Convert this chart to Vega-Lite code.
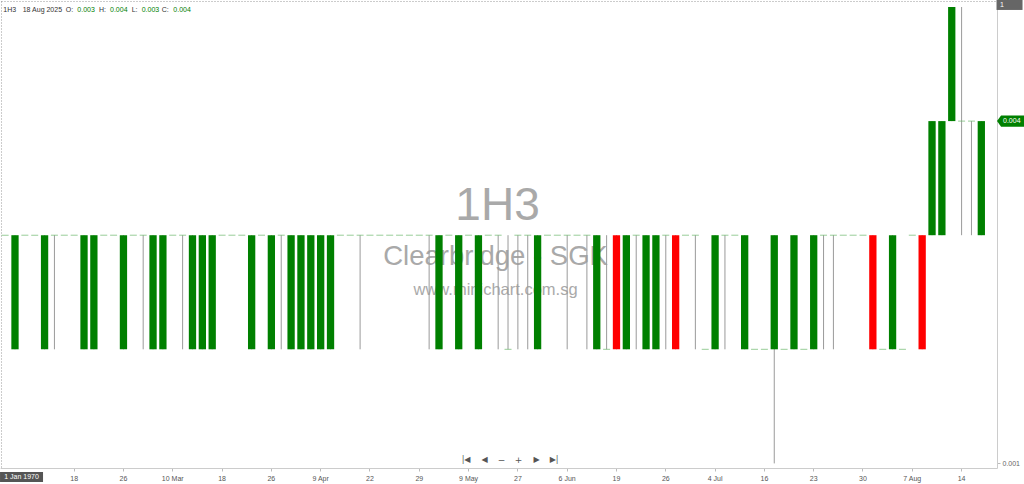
{
  "$schema": "https://vega.github.io/schema/vega-lite/v6.json",
  "autosize": {"type": "none"},
  "padding": {"top": 1, "left": 1, "right": 27, "bottom": 16},
  "width": 996,
  "height": 467,
  "background": "white",
  "config": {"view": {"stroke": "#999", "strokeDash": [1, 2]}, "font": "Liberation Sans"},
  "data": {"values": [
    {"date":"2025-02-07","open":0.003,"high":0.003,"low":0.003,"close":0.003},
    {"date":"2025-02-10","open":0.002,"high":0.003,"low":0.002,"close":0.003},
    {"date":"2025-02-11","open":0.003,"high":0.003,"low":0.003,"close":0.003},
    {"date":"2025-02-12","open":0.003,"high":0.003,"low":0.003,"close":0.003},
    {"date":"2025-02-13","open":0.002,"high":0.003,"low":0.002,"close":0.003},
    {"date":"2025-02-14","open":0.003,"high":0.003,"low":0.002,"close":0.003},
    {"date":"2025-02-17","open":0.003,"high":0.003,"low":0.003,"close":0.003},
    {"date":"2025-02-18","open":0.003,"high":0.003,"low":0.003,"close":0.003},
    {"date":"2025-02-19","open":0.002,"high":0.003,"low":0.002,"close":0.003},
    {"date":"2025-02-20","open":0.002,"high":0.003,"low":0.002,"close":0.003},
    {"date":"2025-02-21","open":0.003,"high":0.003,"low":0.003,"close":0.003},
    {"date":"2025-02-24","open":0.003,"high":0.003,"low":0.003,"close":0.003},
    {"date":"2025-02-26","open":0.002,"high":0.003,"low":0.002,"close":0.003},
    {"date":"2025-02-27","open":0.003,"high":0.003,"low":0.003,"close":0.003},
    {"date":"2025-02-28","open":0.003,"high":0.003,"low":0.002,"close":0.003},
    {"date":"2025-03-04","open":0.002,"high":0.003,"low":0.002,"close":0.003},
    {"date":"2025-03-06","open":0.002,"high":0.003,"low":0.002,"close":0.003},
    {"date":"2025-03-10","open":0.003,"high":0.003,"low":0.003,"close":0.003},
    {"date":"2025-03-11","open":0.003,"high":0.003,"low":0.002,"close":0.003},
    {"date":"2025-03-12","open":0.002,"high":0.003,"low":0.002,"close":0.003},
    {"date":"2025-03-13","open":0.002,"high":0.003,"low":0.002,"close":0.003},
    {"date":"2025-03-14","open":0.002,"high":0.003,"low":0.002,"close":0.003},
    {"date":"2025-03-18","open":0.003,"high":0.003,"low":0.003,"close":0.003},
    {"date":"2025-03-19","open":0.003,"high":0.003,"low":0.003,"close":0.003},
    {"date":"2025-03-20","open":0.003,"high":0.003,"low":0.003,"close":0.003},
    {"date":"2025-03-21","open":0.002,"high":0.003,"low":0.002,"close":0.003},
    {"date":"2025-03-24","open":0.003,"high":0.003,"low":0.003,"close":0.003},
    {"date":"2025-03-26","open":0.002,"high":0.003,"low":0.002,"close":0.003},
    {"date":"2025-03-28","open":0.003,"high":0.003,"low":0.002,"close":0.003},
    {"date":"2025-04-02","open":0.002,"high":0.003,"low":0.002,"close":0.003},
    {"date":"2025-04-04","open":0.002,"high":0.003,"low":0.002,"close":0.003},
    {"date":"2025-04-08","open":0.002,"high":0.003,"low":0.002,"close":0.003},
    {"date":"2025-04-09","open":0.002,"high":0.003,"low":0.002,"close":0.003},
    {"date":"2025-04-11","open":0.002,"high":0.003,"low":0.002,"close":0.003},
    {"date":"2025-04-14","open":0.003,"high":0.003,"low":0.003,"close":0.003},
    {"date":"2025-04-16","open":0.003,"high":0.003,"low":0.003,"close":0.003},
    {"date":"2025-04-21","open":0.003,"high":0.003,"low":0.002,"close":0.003},
    {"date":"2025-04-22","open":0.003,"high":0.003,"low":0.003,"close":0.003},
    {"date":"2025-04-23","open":0.003,"high":0.003,"low":0.003,"close":0.003},
    {"date":"2025-04-24","open":0.003,"high":0.003,"low":0.003,"close":0.003},
    {"date":"2025-04-25","open":0.003,"high":0.003,"low":0.003,"close":0.003},
    {"date":"2025-04-28","open":0.003,"high":0.003,"low":0.003,"close":0.003},
    {"date":"2025-04-29","open":0.003,"high":0.003,"low":0.003,"close":0.003},
    {"date":"2025-04-30","open":0.003,"high":0.003,"low":0.002,"close":0.003},
    {"date":"2025-05-02","open":0.002,"high":0.003,"low":0.002,"close":0.003},
    {"date":"2025-05-06","open":0.003,"high":0.003,"low":0.003,"close":0.003},
    {"date":"2025-05-08","open":0.002,"high":0.003,"low":0.002,"close":0.003},
    {"date":"2025-05-09","open":0.003,"high":0.003,"low":0.003,"close":0.003},
    {"date":"2025-05-14","open":0.002,"high":0.003,"low":0.002,"close":0.003},
    {"date":"2025-05-16","open":0.003,"high":0.003,"low":0.003,"close":0.003},
    {"date":"2025-05-21","open":0.003,"high":0.003,"low":0.002,"close":0.003},
    {"date":"2025-05-23","open":0.002,"high":0.003,"low":0.002,"close":0.002},
    {"date":"2025-05-27","open":0.003,"high":0.003,"low":0.002,"close":0.003},
    {"date":"2025-05-28","open":0.003,"high":0.003,"low":0.002,"close":0.003},
    {"date":"2025-05-29","open":0.002,"high":0.003,"low":0.002,"close":0.003},
    {"date":"2025-05-30","open":0.003,"high":0.003,"low":0.003,"close":0.003},
    {"date":"2025-06-03","open":0.003,"high":0.003,"low":0.003,"close":0.003},
    {"date":"2025-06-06","open":0.003,"high":0.003,"low":0.002,"close":0.003},
    {"date":"2025-06-10","open":0.003,"high":0.003,"low":0.003,"close":0.003},
    {"date":"2025-06-12","open":0.003,"high":0.003,"low":0.002,"close":0.003},
    {"date":"2025-06-16","open":0.002,"high":0.003,"low":0.002,"close":0.003},
    {"date":"2025-06-18","open":0.002,"high":0.003,"low":0.002,"close":0.002},
    {"date":"2025-06-19","open":0.003,"high":0.003,"low":0.002,"close":0.002},
    {"date":"2025-06-20","open":0.002,"high":0.003,"low":0.002,"close":0.003},
    {"date":"2025-06-23","open":0.003,"high":0.003,"low":0.002,"close":0.003},
    {"date":"2025-06-24","open":0.002,"high":0.003,"low":0.002,"close":0.003},
    {"date":"2025-06-25","open":0.002,"high":0.003,"low":0.002,"close":0.003},
    {"date":"2025-06-26","open":0.003,"high":0.003,"low":0.002,"close":0.003},
    {"date":"2025-06-27","open":0.003,"high":0.003,"low":0.002,"close":0.002},
    {"date":"2025-06-30","open":0.003,"high":0.003,"low":0.003,"close":0.003},
    {"date":"2025-07-01","open":0.003,"high":0.003,"low":0.002,"close":0.003},
    {"date":"2025-07-03","open":0.002,"high":0.002,"low":0.002,"close":0.002},
    {"date":"2025-07-04","open":0.002,"high":0.003,"low":0.002,"close":0.003},
    {"date":"2025-07-08","open":0.003,"high":0.003,"low":0.002,"close":0.003},
    {"date":"2025-07-10","open":0.003,"high":0.003,"low":0.003,"close":0.003},
    {"date":"2025-07-11","open":0.002,"high":0.003,"low":0.002,"close":0.003},
    {"date":"2025-07-15","open":0.002,"high":0.002,"low":0.002,"close":0.002},
    {"date":"2025-07-16","open":0.002,"high":0.002,"low":0.002,"close":0.002},
    {"date":"2025-07-17","open":0.002,"high":0.003,"low":0.001,"close":0.003},
    {"date":"2025-07-18","open":0.002,"high":0.002,"low":0.002,"close":0.002},
    {"date":"2025-07-21","open":0.002,"high":0.003,"low":0.002,"close":0.003},
    {"date":"2025-07-22","open":0.002,"high":0.002,"low":0.002,"close":0.002},
    {"date":"2025-07-23","open":0.002,"high":0.003,"low":0.002,"close":0.003},
    {"date":"2025-07-24","open":0.003,"high":0.003,"low":0.002,"close":0.003},
    {"date":"2025-07-25","open":0.003,"high":0.003,"low":0.002,"close":0.003},
    {"date":"2025-07-28","open":0.003,"high":0.003,"low":0.003,"close":0.003},
    {"date":"2025-07-29","open":0.003,"high":0.003,"low":0.003,"close":0.003},
    {"date":"2025-07-30","open":0.003,"high":0.003,"low":0.003,"close":0.003},
    {"date":"2025-07-31","open":0.003,"high":0.003,"low":0.002,"close":0.002},
    {"date":"2025-08-01","open":0.002,"high":0.002,"low":0.002,"close":0.002},
    {"date":"2025-08-04","open":0.002,"high":0.003,"low":0.002,"close":0.003},
    {"date":"2025-08-05","open":0.002,"high":0.002,"low":0.002,"close":0.002},
    {"date":"2025-08-07","open":0.003,"high":0.003,"low":0.003,"close":0.003},
    {"date":"2025-08-08","open":0.003,"high":0.003,"low":0.002,"close":0.002},
    {"date":"2025-08-11","open":0.003,"high":0.004,"low":0.003,"close":0.004},
    {"date":"2025-08-12","open":0.003,"high":0.004,"low":0.003,"close":0.004},
    {"date":"2025-08-13","open":0.004,"high":0.005,"low":0.004,"close":0.005},
    {"date":"2025-08-14","open":0.004,"high":0.005,"low":0.003,"close":0.004},
    {"date":"2025-08-15","open":0.004,"high":0.004,"low":0.003,"close":0.004},
    {"date":"2025-08-18","open":0.003,"high":0.004,"low":0.003,"close":0.004}
  ]},
  "encoding": {
    "x": {
      "field": "date", "type": "ordinal",
      "scale": {"range": [-0.8, 996], "paddingInner": 0, "paddingOuter": 0.545, "align": 0},
      "axis": {
        "title": null, "grid": false, "labelAngle": 0,
        "values": ["2025-02-18","2025-02-26","2025-03-10","2025-03-18","2025-03-26","2025-04-09","2025-04-22","2025-04-29","2025-05-09","2025-05-27","2025-06-06","2025-06-19","2025-06-26","2025-07-04","2025-07-16","2025-07-23","2025-07-30","2025-08-07","2025-08-14"],
        "labelExpr": "indexof(['2025-03-10','2025-04-09','2025-05-09','2025-06-06','2025-07-04','2025-08-07'], datum.value) >= 0 ? utcFormat(toDate(datum.value), '%-d %b') : utcFormat(toDate(datum.value), '%-d')",
        "labelFontSize": 7, "labelColor": "#555", "labelPadding": 3,
        "tickSize": 3, "tickColor": "#bbb", "domainColor": "#ccc"
      }
    }
  },
  "layer": [
    {"data": {"values": [{}]}, "mark": {"type": "text", "text": "1H3", "align": "center", "baseline": "alphabetic", "fontSize": 46, "color": "#a9a9a9", "xOffset": -0.6},
     "encoding": {"x": {"datum": "2025-05-21", "type": "ordinal"}, "y": {"datum": 0.003133, "type": "quantitative"}}},
    {"data": {"values": [{}]}, "mark": {"type": "text", "text": "Clearbridge - SGK", "align": "center", "baseline": "alphabetic", "fontSize": 27.5, "color": "#a9a9a9", "xOffset": -2.6},
     "encoding": {"x": {"datum": "2025-05-21", "type": "ordinal"}, "y": {"datum": 0.002739, "type": "quantitative"}}},
    {"data": {"values": [{}]}, "mark": {"type": "text", "text": "www.minichart.com.sg", "align": "center", "baseline": "alphabetic", "fontSize": 16.5, "color": "#a9a9a9", "xOffset": -2.6},
     "encoding": {"x": {"datum": "2025-05-21", "type": "ordinal"}, "y": {"datum": 0.002476, "type": "quantitative"}}},
    {
      "transform": [{"filter": "datum.high > datum.low"}],
      "mark": {"type": "rule", "color": "#9a9a9a", "strokeWidth": 1},
      "encoding": {
        "y": {"field": "low", "type": "quantitative",
              "scale": {"domain": [0.0009597, 0.0050526], "nice": false, "zero": false},
              "axis": {"orient": "right", "values": [0.001], "format": ".3f", "title": null, "grid": false, "labelFontSize": 7, "labelColor": "#666", "tickSize": 3, "tickColor": "#bbb", "domainColor": "#ccc", "labelPadding": 2}},
        "y2": {"field": "high"}
      }
    },
    {
      "transform": [{"filter": "datum.close != datum.open"}],
      "mark": {"type": "bar", "width": {"band": 0.74}},
      "encoding": {
        "y": {"field": "open", "type": "quantitative", "axis": {"orient": "right", "values": [0.001], "format": ".3f", "title": null, "grid": false, "labelFontSize": 7, "labelColor": "#666", "tickSize": 3, "tickColor": "#bbb", "domainColor": "#ccc", "labelPadding": 2}},
        "y2": {"field": "close"},
        "color": {"condition": {"test": "datum.close > datum.open", "value": "#008000"}, "value": "#ff0000"}
      }
    },
    {
      "transform": [{"filter": "datum.close == datum.open"}],
      "mark": {"type": "tick", "orient": "horizontal", "size": 7, "thickness": 1, "color": "#6cb86c"},
      "encoding": {
        "y": {"field": "open", "type": "quantitative", "axis": {"orient": "right", "values": [0.001], "format": ".3f", "title": null, "grid": false, "labelFontSize": 7, "labelColor": "#666", "tickSize": 3, "tickColor": "#bbb", "domainColor": "#ccc", "labelPadding": 2}}
      }
    },
    {"data": {"values": [{}]}, "mark": {"type": "text", "text": "1H3", "align": "left", "baseline": "middle", "fontSize": 7, "color": "#333", "xOffset": -1.8},
     "encoding": {"x": {"datum": "2025-02-07", "type": "ordinal"}, "y": {"datum": 0.004974, "type": "quantitative"}}},
    {"data": {"values": [{}]}, "mark": {"type": "text", "text": "18 Aug 2025", "align": "left", "baseline": "middle", "fontSize": 7, "color": "#333", "xOffset": 17.6},
     "encoding": {"x": {"datum": "2025-02-07", "type": "ordinal"}, "y": {"datum": 0.004974, "type": "quantitative"}}},
    {"data": {"values": [{}]}, "mark": {"type": "text", "text": "O:", "align": "left", "baseline": "middle", "fontSize": 7, "color": "#333", "xOffset": 60.6},
     "encoding": {"x": {"datum": "2025-02-07", "type": "ordinal"}, "y": {"datum": 0.004974, "type": "quantitative"}}},
    {"data": {"values": [{}]}, "mark": {"type": "text", "text": "0.003", "align": "left", "baseline": "middle", "fontSize": 7, "color": "#008000", "xOffset": 72.2},
     "encoding": {"x": {"datum": "2025-02-07", "type": "ordinal"}, "y": {"datum": 0.004974, "type": "quantitative"}}},
    {"data": {"values": [{}]}, "mark": {"type": "text", "text": "H:", "align": "left", "baseline": "middle", "fontSize": 7, "color": "#333", "xOffset": 93.9},
     "encoding": {"x": {"datum": "2025-02-07", "type": "ordinal"}, "y": {"datum": 0.004974, "type": "quantitative"}}},
    {"data": {"values": [{}]}, "mark": {"type": "text", "text": "0.004", "align": "left", "baseline": "middle", "fontSize": 7, "color": "#008000", "xOffset": 104.9},
     "encoding": {"x": {"datum": "2025-02-07", "type": "ordinal"}, "y": {"datum": 0.004974, "type": "quantitative"}}},
    {"data": {"values": [{}]}, "mark": {"type": "text", "text": "L:", "align": "left", "baseline": "middle", "fontSize": 7, "color": "#333", "xOffset": 126.6},
     "encoding": {"x": {"datum": "2025-02-07", "type": "ordinal"}, "y": {"datum": 0.004974, "type": "quantitative"}}},
    {"data": {"values": [{}]}, "mark": {"type": "text", "text": "0.003", "align": "left", "baseline": "middle", "fontSize": 7, "color": "#008000", "xOffset": 136.6},
     "encoding": {"x": {"datum": "2025-02-07", "type": "ordinal"}, "y": {"datum": 0.004974, "type": "quantitative"}}},
    {"data": {"values": [{}]}, "mark": {"type": "text", "text": "C:", "align": "left", "baseline": "middle", "fontSize": 7, "color": "#333", "xOffset": 156.6},
     "encoding": {"x": {"datum": "2025-02-07", "type": "ordinal"}, "y": {"datum": 0.004974, "type": "quantitative"}}},
    {"data": {"values": [{}]}, "mark": {"type": "text", "text": "0.004", "align": "left", "baseline": "middle", "fontSize": 7, "color": "#008000", "xOffset": 168.2},
     "encoding": {"x": {"datum": "2025-02-07", "type": "ordinal"}, "y": {"datum": 0.004974, "type": "quantitative"}}},
    {"data": {"values": [{}]}, "mark": {"type": "text", "text": "|◀", "align": "center", "baseline": "middle", "fontSize": 8, "font": "DejaVu Sans", "color": "#555", "xOffset": -32.1},
     "encoding": {"x": {"datum": "2025-05-21", "type": "ordinal"}, "y": {"datum": 0.001034, "type": "quantitative"}}},
    {"data": {"values": [{}]}, "mark": {"type": "text", "text": "◀", "align": "center", "baseline": "middle", "fontSize": 8, "font": "DejaVu Sans", "color": "#555", "xOffset": -13.6},
     "encoding": {"x": {"datum": "2025-05-21", "type": "ordinal"}, "y": {"datum": 0.001034, "type": "quantitative"}}},
    {"data": {"values": [{}]}, "mark": {"type": "text", "text": "−", "align": "center", "baseline": "middle", "fontSize": 9, "font": "DejaVu Sans", "color": "#555", "xOffset": 3.4},
     "encoding": {"x": {"datum": "2025-05-21", "type": "ordinal"}, "y": {"datum": 0.001034, "type": "quantitative"}}},
    {"data": {"values": [{}]}, "mark": {"type": "text", "text": "+", "align": "center", "baseline": "middle", "fontSize": 9, "font": "DejaVu Sans", "color": "#555", "xOffset": 20.4},
     "encoding": {"x": {"datum": "2025-05-21", "type": "ordinal"}, "y": {"datum": 0.001034, "type": "quantitative"}}},
    {"data": {"values": [{}]}, "mark": {"type": "text", "text": "▶", "align": "center", "baseline": "middle", "fontSize": 8, "font": "DejaVu Sans", "color": "#555", "xOffset": 38.4},
     "encoding": {"x": {"datum": "2025-05-21", "type": "ordinal"}, "y": {"datum": 0.001034, "type": "quantitative"}}},
    {"data": {"values": [{}]}, "mark": {"type": "text", "text": "▶|", "align": "center", "baseline": "middle", "fontSize": 8, "font": "DejaVu Sans", "color": "#555", "xOffset": 55.9},
     "encoding": {"x": {"datum": "2025-05-21", "type": "ordinal"}, "y": {"datum": 0.001034, "type": "quantitative"}}},
    {"data": {"values": [{}]}, "mark": {"type": "point", "filled": true, "opacity": 1, "color": "#555", "size": 1849, "shape": "M-1,-0.2326L1,-0.2326L1,0.2326L-1,0.2326Z", "xOffset": 16.4, "clip": false},
     "encoding": {"x": {"datum": "2025-02-07", "type": "ordinal"}, "y": {"datum": 0.000881, "type": "quantitative"}}},
    {"data": {"values": [{}]}, "mark": {"type": "text", "text": "1 Jan 1970", "align": "center", "baseline": "middle", "fontSize": 7, "color": "white", "xOffset": 16.4},
     "encoding": {"x": {"datum": "2025-02-07", "type": "ordinal"}, "y": {"datum": 0.000881, "type": "quantitative"}}},
    {"data": {"values": [{}]}, "mark": {"type": "point", "filled": true, "opacity": 1, "color": "#666", "size": 676, "shape": "M-1,-0.385L1,-0.385L1,0.385L-1,0.385Z", "xOffset": 28.2, "clip": false},
     "encoding": {"x": {"datum": "2025-08-18", "type": "ordinal"}, "y": {"datum": 0.005018, "type": "quantitative"}}},
    {"data": {"values": [{}]}, "mark": {"type": "text", "text": "1", "align": "left", "baseline": "middle", "fontSize": 7, "color": "white", "xOffset": 18.7},
     "encoding": {"x": {"datum": "2025-08-18", "type": "ordinal"}, "y": {"datum": 0.005018, "type": "quantitative"}}},
    {"data": {"values": [{}]}, "mark": {"type": "point", "filled": true, "opacity": 1, "color": "#008000", "size": 900, "shape": "M-1,0L-0.73,-0.37L1,-0.37L1,0.37L-0.73,0.37Z", "xOffset": 30.7, "clip": false},
     "encoding": {"x": {"datum": "2025-08-18", "type": "ordinal"}, "y": {"datum": 0.004, "type": "quantitative"}}},
    {"data": {"values": [{}]}, "mark": {"type": "text", "text": "0.004", "align": "left", "baseline": "middle", "fontSize": 7, "color": "white", "xOffset": 21.7},
     "encoding": {"x": {"datum": "2025-08-18", "type": "ordinal"}, "y": {"datum": 0.004, "type": "quantitative"}}}
  ]
}
